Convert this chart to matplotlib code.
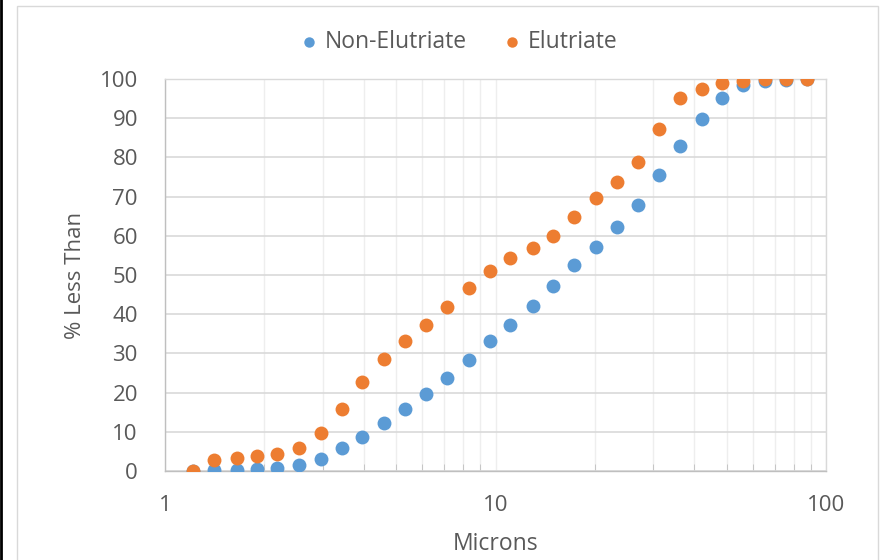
import matplotlib.pyplot as plt
from matplotlib.lines import Line2D
from matplotlib.patches import Rectangle
from matplotlib.ticker import FixedLocator, NullFormatter

plt.rcParams['font.family'] = ['Open Sans', 'DejaVu Sans']

microns = [1.213, 1.41, 1.648, 1.90, 2.18, 2.55, 2.96, 3.43, 3.95, 4.59,
           5.33, 6.16, 7.11, 8.32, 9.62, 11.1, 13.0, 14.9, 17.3, 20.1,
           23.3, 27.0, 31.2, 36.2, 42.2, 48.5, 56.1, 65.3, 75.5, 87.6]
non_elutriate = [0, 0.3, 0.3, 0.5, 0.8, 1.5, 3.1, 5.9, 8.8, 12.2,
                 15.7, 19.6, 23.8, 28.3, 33.2, 37.3, 42.2, 47.2, 52.5, 57.2,
                 62.2, 67.8, 75.4, 82.9, 89.8, 95.2, 98.5, 99.6, 99.7, 100]
elutriate = [0, 2.7, 3.2, 3.8, 4.4, 5.8, 9.6, 15.9, 22.8, 28.6,
             33.2, 37.3, 41.9, 46.6, 51.1, 54.3, 57.0, 60.0, 64.9, 69.7,
             73.8, 78.9, 87.3, 95.2, 97.4, 98.9, 99.6, 99.9, 100, 100]

blue = '#5B9BD5'
orange = '#ED7D31'
txt = '#595959'

fig = plt.figure(figsize=(8.88, 5.6), dpi=100)
# chart frame + left black edge
fig.patches.append(Rectangle((17/888, -0.05), 861/888, 1.05 - 6/560,
                             transform=fig.transFigure, fill=False,
                             edgecolor='#D9D9D9', linewidth=1))
fig.lines.append(Line2D([0.001, 0.001], [0, 1], transform=fig.transFigure,
                        color='black', linewidth=2))

ax = fig.add_axes([165/888, 89/560, 661/888, 392/560])
ax.scatter(microns, non_elutriate, s=100, color=blue, linewidths=0,
           label='Non-Elutriate', zorder=3)
ax.scatter(microns, elutriate, s=100, color=orange, linewidths=0,
           label='Elutriate', zorder=4)

ax.set_xscale('log')
ax.set_xlim(1, 100)
ax.set_ylim(0, 100)
ax.set_yticks(range(0, 101, 10))
ax.xaxis.set_major_locator(FixedLocator([1, 10, 100]))
ax.set_xticklabels(['1', '10', '100'])
minors = [m * d for d in (1, 10) for m in range(2, 10)]
ax.xaxis.set_minor_locator(FixedLocator(minors))
ax.xaxis.set_minor_formatter(NullFormatter())

ax.grid(axis='y', which='major', color='#D9D9D9', linewidth=1.2)
ax.grid(axis='x', which='both', color='#EEEEEE', linewidth=1)
ax.set_axisbelow(True)
for s in ax.spines.values():
    s.set_color('#D9D9D9')
    s.set_linewidth(1)
ax.spines['left'].set_color('#BFBFBF')
ax.spines['bottom'].set_color('#BFBFBF')

ax.tick_params(axis='y', length=0, pad=19.5, labelsize=16, labelcolor=txt)
ax.tick_params(axis='x', which='major', length=0, pad=17, labelsize=16,
               labelcolor=txt)
ax.tick_params(axis='x', which='minor', direction='in', length=5,
               color='#BFBFBF')

ax.set_xlabel('Microns', fontsize=16.5, color=txt, labelpad=12)
ax.set_ylabel('% Less Than', fontsize=16, color=txt, labelpad=10)

fig.legend(loc='center', bbox_to_anchor=(459/888, 1 - 42/560), ncol=2,
           frameon=False, fontsize=16.5, labelcolor=txt, handlelength=0.7,
           handletextpad=0.35, columnspacing=1.6, markerscale=0.75)

fig.savefig('out.png', dpi=100)
